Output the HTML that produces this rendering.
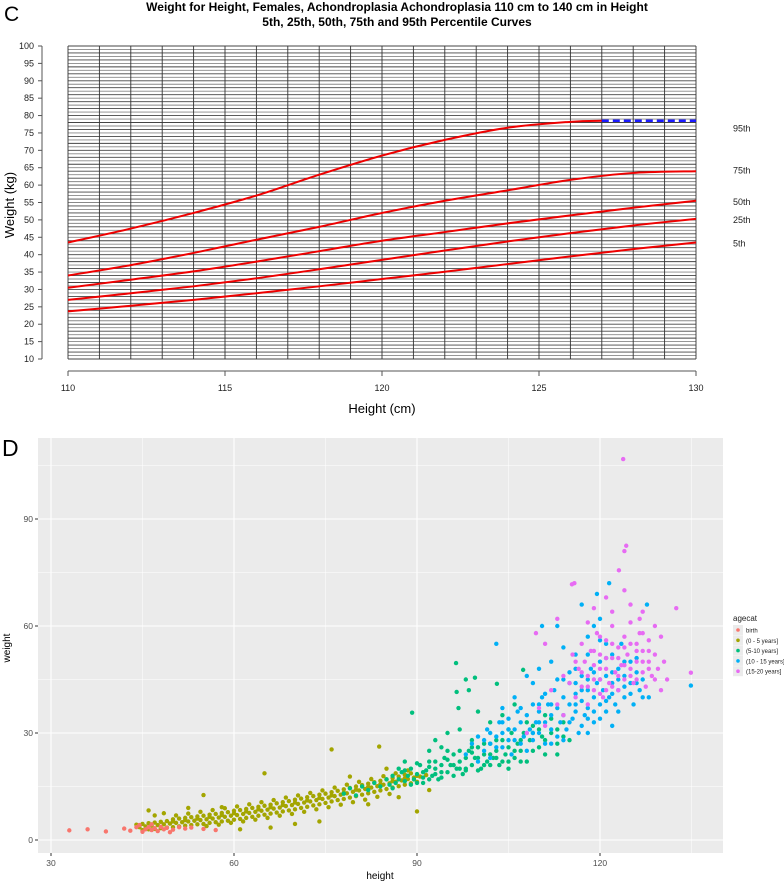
<!DOCTYPE html>
<html><head><meta charset="utf-8"><style>
html,body{margin:0;padding:0;background:#fff}
svg{display:block;font-family:"Liberation Sans",Arial,sans-serif}
</style></head><body>
<svg id="root" width="784" height="885" viewBox="0 0 784 885" xmlns="http://www.w3.org/2000/svg">
<text x="4" y="21" font-size="21">C</text>
<text x="397" y="11" font-size="12" font-weight="bold" text-anchor="middle">Weight for Height, Females, Achondroplasia Achondroplasia 110 cm to 140 cm in Height</text>
<text x="397" y="26" font-size="12" font-weight="bold" text-anchor="middle">5th, 25th, 50th, 75th and 95th Percentile Curves</text>
<g id="chartC"></g>
<text x="2" y="456" font-size="23">D</text>
<g id="chartD"></g>
</svg>
<script>
// ===== Chart C data =====
const pctHeights = [110,112,114,116,118,120,122,124,126,127];
const p95 = [43.5,47.5,52,57,63,68.5,73,76.5,78.2,78.5];
const p95ExtHeights = [127,130];
const p95Ext = [78.5,78.5];
const curveHeights = [110,112,114,116,118,120,122,124,126,128,130];
const p75 = [34,37,40.5,44.3,48,52,55.5,58.5,61.5,63.5,64];
const p50 = [30.5,32.8,35.2,38,41,44,46.5,49,51.3,53.5,55.5];
const p25 = [27,28.9,30.9,33.2,35.8,38.5,41.2,43.8,46.2,48.4,50.3];
const p5 = [23.7,25.3,27,28.9,30.9,33,35.1,37.3,39.5,41.6,43.5];
const pctLabels = ["95th","75th","50th","25th","5th"];
const pctLabelValues = [76.5,64.5,55.5,50.3,43.5];
const cYTicks = [10,15,20,25,30,35,40,45,50,55,60,65,70,75,80,85,90,95,100];
const cXTicks = [110,115,120,125,130];

// ===== Chart D data =====
const dXTicks = [30,60,90,120];
const dYTicks = [0,30,60,90];
const legendLabels = ["birth","(0 - 5 years]","(5-10 years]","(10 - 15 years]","(15-20 years]"];
const birthPts = [[33,2.7],[36,3],[39,2.4],[42,3.2],[43,2.6],[44,3.6],[45,2.3],[45.5,3],[46,3.6],[46.5,2.8],[47,3.3],[47.5,2.5],[48,3.7],[48.5,3.0],[49,3.4],[50,2.9],[51,3.6],[52,3.2],[53,3.5],[55,3.1],[57,2.8],[44.5,4.2],[46.5,4.4],[49.5,2.2]];
const age0to5Pts = [[44,4.3],[45,4.5],[46,4.7],[47,4.9],[48,5.1],[49,5.3],[50,5.8],[51,6.0],[52,6.2],[53,6.4],[54,6.6],[55,6.8],[56,7.1],[57,7.3],[58,7.6],[59,7.8],[60,8.2],[61,8.4],[62,8.7],[63,9.0],[64,9.3],[65,9.6],[66,9.9],[67,10.3],[68,10.6],[69,10.9],[70,11.3],[71,11.6],[72,12.0],[73,12.3],[74,12.7],[75,13.0],[76,13.4],[77,13.8],[78,14.2],[79,14.6],[80,15.0],[81,15.4],[82,15.8],[83,16.2],[84,16.6],[85,17.0],[86,17.4],[87,17.8],[88,18.3],[89,18.7],
[44.5,3.6],[45.5,3.8],[46.5,4.0],[47.5,4.2],[48.5,4.4],[49.5,4.6],[50.5,4.8],[51.5,5.0],[52.5,5.2],[53.5,5.4],[54.5,5.6],[55.5,5.8],[56.5,6.0],[57.5,6.3],[58.5,6.5],[59.5,6.8],[60.5,7.0],[61.5,7.3],[62.5,7.6],[63.5,7.9],[64.5,8.2],[65.5,8.5],[66.5,8.8],[67.5,9.1],[68.5,9.5],[69.5,9.8],[70.5,10.1],[71.5,10.5],[72.5,10.8],[73.5,11.2],[74.5,11.5],[75.5,11.9],[76.5,12.3],[77.5,12.7],[78.5,13.1],[79.5,13.5],[80.5,13.9],[81.5,14.3],[82.5,14.7],[83.5,15.1],[84.5,15.5],[85.5,15.9],[86.5,16.3],[87.5,16.7],[88.5,17.1],[89.5,17.5],[90.5,17.8],[91.5,18.2],
[45,2.8],[46,3.0],[47,3.1],[48,3.3],[49,3.5],[50,3.6],[51,3.8],[52,4.0],[53,4.2],[54,4.4],[55,4.5],[56,4.8],[57,5.0],[58,5.2],[59,5.4],[60,5.7],[61,5.9],[62,6.2],[63,6.5],[64,6.8],[65,7.1],[66,7.4],[67,7.7],[68,8.0],[69,8.3],[70,8.6],[71,9.0],[72,9.3],[73,9.7],[74,10.0],[75,10.4],[76,10.8],[77,11.2],[78,11.5],[79,11.9],[80,12.3],[81,12.7],[82,13.1],[83,13.5],[84,13.9],[85,14.3],[86,14.7],[87,15.1],[88,15.5],[89,15.9],[90,16.3],
[50.5,6.9],[52.5,7.4],[54.5,7.9],[56.5,8.4],[58.5,8.9],[60.5,9.4],[62.5,10.0],[64.5,10.6],[66.5,11.2],[68.5,11.9],[70.5,12.5],[72.5,13.2],[74.5,13.9],[76.5,14.7],[78.5,15.5],[80.5,16.3],[82.5,17.1],[84.5,17.9],[86.5,18.7],[88.5,19.5],
[50,5.2],[52,5.6],[54,6.0],[56,6.5],[58,7.0],[60,7.5],[62,8.0],[64,8.6],[66,9.2],[68,9.8],[70,10.5],[72,11.1],[74,11.8],[76,12.5],[78,13.3],[80,14.1],[82,14.9],[84,15.7],[86,16.5],[88,17.3],[90,18.0],
[55.5,3.9],[57.5,4.3],[59.5,4.8],[61.5,5.2],[63.5,5.7],[65.5,6.2],[67.5,6.8],[69.5,7.3],[71.5,7.9],[73.5,8.6],[75.5,9.2],[77.5,9.9],[79.5,10.6],[81.5,11.3],[83.5,12.1],[85.5,12.9],
[46,8.3],[47,6.9],[48.5,7.5],[52.5,9],[55,12.6],[58,9.2],[65,18.7],[76,25.4],[83.8,26.2],[66,3.5],[70,4.5],[74,5.2],[82,10],[90,8],[61,3],[79,17.8],[85,20],[87,12],[92,14]];
const age5to10Pts = [[78,13],[79,14.5],[80,12.5],[81,15],[82,14],[83,16],[84,15],[85,17],[85.5,15.5],[86,18],[86.5,16],[87,17],[87.5,19],[88,16.5],[88.5,18],[89,20],[89.5,17],[90,18.5],[90.5,21],[91,17.5],[91.5,19.5],[92,22],[92.5,18],[93,20],[93.5,17],[94,21],[94.5,23],[95,19],[95.5,21],[96,24],[96.5,20],[97,22],[97.5,18.5],[98,23],[98.5,25],[99,21],[99.5,23],[100,26],[100.5,20],[101,24],[101.5,22],[102,27],[102.5,23],[103,25],[103.5,21],[104,28],[104.5,24],[105,26],[105.5,30],[106,23],[106.5,27],[107,25],[107.5,30],[108,22],[108.5,28],[109,32],[110,26],[110.5,29],[111,24],[112,30],[113,27],[114,33],[115,28],[96.4,49.6],[98,45],[96.5,41.5],[98.5,42],[96.8,37],[89.2,35.7],[99.5,45.5],[103.1,43.8],[107.4,47.7],[100,36],[102,33],[95,30],[93,28],[97,31],[104,35],[106,38],[99,28],[92,25],[88,22],[94,26],[91,19],[93,22],[96,21],[98,20],[100,23],[102,24],[105,22],
[86,14.5],[87,20],[88,19.5],[89,15.5],[90,21.5],[91,16],[92,20.5],[93,18.5],[94,19],[95,22.5],[96,18],[97,25],[98,19.5],[99,24.5],[100,19.5],[101,27],[102,21],[103,28],[104,22],[105,31],[106,25],[107,28],[108,33],[109,25],[110,31],[111,28],[112,34],[113,24],[114,29],[95,25],[97,20],[99,26],[101,21],[103,23],[105,20],[107,22],[109,30],[111,35],[113,31],[90,16],[92,17],[94,17.5]];
const age10to15Pts = [[98,24],[99,27],[100,22],[100,29],[101,25],[101.5,31],[102,27],[102,23],[103,29],[103.5,33],[104,26],[104,30],[105,28],[105,34],[105.5,24],[106,31],[106.5,36],[107,27],[107,33],[107.5,29],[108,35],[108,25],[108.5,31],[109,38],[109,28],[109.5,33],[110,30],[110,36],[110.5,40],[111,27],[111,33],[111.5,38],[112,31],[112,35],[112.5,42],[113,29],[113,37],[113.5,33],[114,40],[114,35],[114.5,31],[115,38],[115,44],[115.5,34],[116,36],[116,41],[116.5,30],[117,39],[117,46],[117.5,35],[118,42],[118,37],[118.5,48],[119,33],[119,40],[119.5,44],[120,38],[120,50],[120.5,42],[121,36],[121,46],[121.5,40],[122,44],[122,52],[122.5,38],[123,48],[123,42],[123.5,55],[124,40],[124,46],[125,44],[125,50],[125.5,38],[126,47],[126.5,42],[127,45],[128,40],[108,46],[110,48],[112,50],[114,54],[116,52],[118,57],[119,60],[120,62],[121,55],[117,66],[119.5,69],[113,60],[110.5,60],[103,55],[121.5,72],[127.7,66],[134.9,43.3],[122,32],[118,30],[106,40],[104,37],[109,44],
[109,30],[110,33],[111,41],[112,27],[113,45],[114,28],[115,33],[115,47],[116,38],[116,44],[117,32],[117,42],[118,34],[118,45],[119,36],[119,47],[120,34],[120,45],[121,39],[121,51],[122,41],[122,47],[123,36],[123,45],[124,43],[124,50],[125,41],[126,44],[126,51],[127,40],[106,28],[107,37],[108,30],[105,31],[104,33],[103,26],[102,30],[101,28],[120,56],[118,52],[116,48],[114,45],[112,38],[110,38]];
const age15to20Pts = [[108,30],[110,37],[111,32],[112,42],[113,38],[114,46],[114,35],[115,44],[115.5,52],[116,40],[116.5,48],[117,43],[117,55],[117.5,50],[118,46],[118,38],[118.5,53],[119,42],[119,49],[119.5,58],[120,45],[120,52],[120.5,40],[121,48],[121,56],[121.5,44],[122,51],[122,60],[122.5,47],[123,42],[123,54],[123.5,49],[124,57],[124,45],[124.5,52],[125,48],[125,61],[125.5,44],[126,55],[126,50],[126.5,58],[127,47],[127,53],[127.5,43],[128,56],[128,50],[128.5,46],[129,52],[129.5,48],[130,42],[130.5,50],[131,45],[115.4,71.7],[115.8,72],[123.1,75.6],[124.3,82.5],[124,81],[123.8,106.8],[132.5,65],[134.9,46.9],[119,65],[121,68],[125,66],[127,64],[113,62],[111,55],[109.5,58],[126.5,62],[124,70],[122,64],[118,61],[130,57],[129,60],
[118,43],[119,45],[120,48],[121,51],[122,43],[122,55],[123,46],[123,51],[124,49],[124,54],[125,46],[125,55],[126,45],[126,53],[127,50],[127,58],[128,48],[128,53],[129,45],[119,53],[120,57],[117,47],[116,50],[121,42],[120,41]];

const NS = "http://www.w3.org/2000/svg";
function mk(tag, attrs, parent){const e=document.createElementNS(NS,tag);for(const k in attrs)e.setAttribute(k,attrs[k]);parent.appendChild(e);return e;}

// ===== Chart C =====
const gC = document.getElementById('chartC');
const cx = h => 68 + (h-110)*(696-68)/20;
const cy = w => 359 - (w-10)*(359-46)/90;
for(let w=10; w<=100; w++){
  const l = mk('line',{x1:68,x2:696,y1:cy(w),y2:cy(w),stroke:(w%2===0)?'#444':'#888','stroke-width':0.9},gC);
  
  
}
for(let h=110; h<=130; h++){
  const l = mk('line',{x1:cx(h),x2:cx(h),y1:46,y2:359,stroke:'#333','stroke-width':0.9},gC);
  
  
}
const yAx = mk('line',{x1:42,x2:42,y1:cy(10),y2:cy(100),stroke:'#555'},gC);


cYTicks.forEach(v=>{
  const t=mk('line',{x1:38,x2:42,y1:cy(v),y2:cy(v),stroke:'#555'},gC);
  
  
  const tx=mk('text',{x:34,y:cy(v)+3,'font-size':9,'text-anchor':'end',fill:'#222'},gC);
  tx.textContent=v;
  
  
});
const xAx = mk('line',{x1:cx(110),x2:cx(130),y1:371,y2:371,stroke:'#555'},gC);


cXTicks.forEach(v=>{
  const t=mk('line',{x1:cx(v),x2:cx(v),y1:371,y2:376,stroke:'#555'},gC);
  
  
  const tx=mk('text',{x:cx(v),y:391,'font-size':9,'text-anchor':'middle',fill:'#222'},gC);
  tx.textContent=v;
  
  
});
const xt=mk('text',{x:cx(120),y:413,'font-size':13,'text-anchor':'middle'},gC);
xt.textContent='Height (cm)';


const yt=mk('text',{x:14,y:205,'font-size':13,'text-anchor':'middle',transform:'rotate(-90 14 205)'},gC);
yt.textContent='Weight (kg)';



function smoothPath(xs, ys){
  const P = xs.map((h,i)=>[cx(h),cy(ys[i])]);
  let d = 'M'+P[0][0]+','+P[0][1];
  for(let i=0;i<P.length-1;i++){
    const p0=P[Math.max(0,i-1)],p1=P[i],p2=P[i+1],p3=P[Math.min(P.length-1,i+2)];
    const c1=[p1[0]+(p2[0]-p0[0])/6,p1[1]+(p2[1]-p0[1])/6];
    const c2=[p2[0]-(p3[0]-p1[0])/6,p2[1]-(p3[1]-p1[1])/6];
    d+=' C'+c1+' '+c2+' '+p2;
  }
  return d;
}
const curves=[[pctHeights,p95,'curve-95th'],[curveHeights,p75,'curve-75th'],[curveHeights,p50,'curve-50th'],[curveHeights,p25,'curve-25th'],[curveHeights,p5,'curve-5th']];
curves.forEach(c=>{
  const p=mk('path',{d:smoothPath(c[0],c[1]),fill:'none',stroke:'#e00','stroke-width':2},gC);
  
  
});
const ext=mk('line',{x1:cx(p95ExtHeights[0]),x2:cx(p95ExtHeights[1]),y1:cy(p95Ext[0]),y2:cy(p95Ext[1]),stroke:'#1a1aff','stroke-width':2.5,'stroke-dasharray':'7,4'},gC);


pctLabels.forEach((lab,i)=>{
  const t=mk('text',{x:733,y:cy(pctLabelValues[i])+4,'font-size':9,fill:'#222'},gC);
  t.textContent=lab;
  
  
});

// ===== Chart D =====
const gD = document.getElementById('chartD');
const dx = h => 51 + (h-30)*(600-51)/90;
const dy = w => 840 - w*(840-519)/90;
const PL=38,PR=723,PT=438,PB=853;
const bg=mk('rect',{x:PL,y:PT,width:PR-PL,height:PB-PT,fill:'#EBEBEB'},gD);


for(let v=15; v<=135; v+=30){
  const l=mk('line',{x1:dx(v),x2:dx(v),y1:PT,y2:PB,stroke:'#fff','stroke-width':0.5},gD);
  
  
}
for(let v=15; v<=105; v+=30){
  const l=mk('line',{x1:PL,x2:PR,y1:dy(v),y2:dy(v),stroke:'#fff','stroke-width':0.5},gD);
  
  
}
dXTicks.forEach(v=>{
  const l=mk('line',{x1:dx(v),x2:dx(v),y1:PT,y2:PB,stroke:'#fff','stroke-width':1.1},gD);
  
  
  const t=mk('line',{x1:dx(v),x2:dx(v),y1:PB,y2:PB+3,stroke:'#333'},gD);
  
  
  const tx=mk('text',{x:dx(v),y:PB+13,'font-size':8.5,'text-anchor':'middle',fill:'#4d4d4d'},gD);
  tx.textContent=v;
  
  
});
dYTicks.forEach(v=>{
  const l=mk('line',{x1:PL,x2:PR,y1:dy(v),y2:dy(v),stroke:'#fff','stroke-width':1.1},gD);
  
  
  const t=mk('line',{x1:PL-3,x2:PL,y1:dy(v),y2:dy(v),stroke:'#333'},gD);
  
  
  const tx=mk('text',{x:PL-5,y:dy(v)+3,'font-size':8.5,'text-anchor':'end',fill:'#4d4d4d'},gD);
  tx.textContent=v;
  
  
});
const dxt=mk('text',{x:380,y:879,'font-size':10,'text-anchor':'middle'},gD);
dxt.textContent='height';


const dyt=mk('text',{x:10,y:648,'font-size':10,'text-anchor':'middle',transform:'rotate(-90 10 648)'},gD);
dyt.textContent='weight';



const colors=['#F8766D','#A3A500','#00BF7D','#00B0F6','#E76BF3'];
const groups=[birthPts,age0to5Pts,age5to10Pts,age10to15Pts,age15to20Pts];
const order=[1,0,2,3,4];
order.forEach(gi=>{
  groups[gi].forEach(p=>{
    const c=mk('circle',{cx:dx(p[0]),cy:dy(p[1]),r:2.2,fill:colors[gi]},gD);
    
    
  });
});
const lt=mk('text',{x:733,y:621,'font-size':8,fill:'#222'},gD);
lt.textContent='agecat';


legendLabels.forEach((lab,i)=>{
  const y=630+i*10.3;
  const k=mk('rect',{x:733,y:y-5,width:10,height:10,fill:'#EBEBEB'},gD);
  
  
  const c=mk('circle',{cx:738,cy:y,r:1.8,fill:colors[i]},gD);
  
  
  const t=mk('text',{x:746,y:y+2.5,'font-size':6,fill:'#222'},gD);
  t.textContent=lab;
  
  
});
</script>
</body></html>
